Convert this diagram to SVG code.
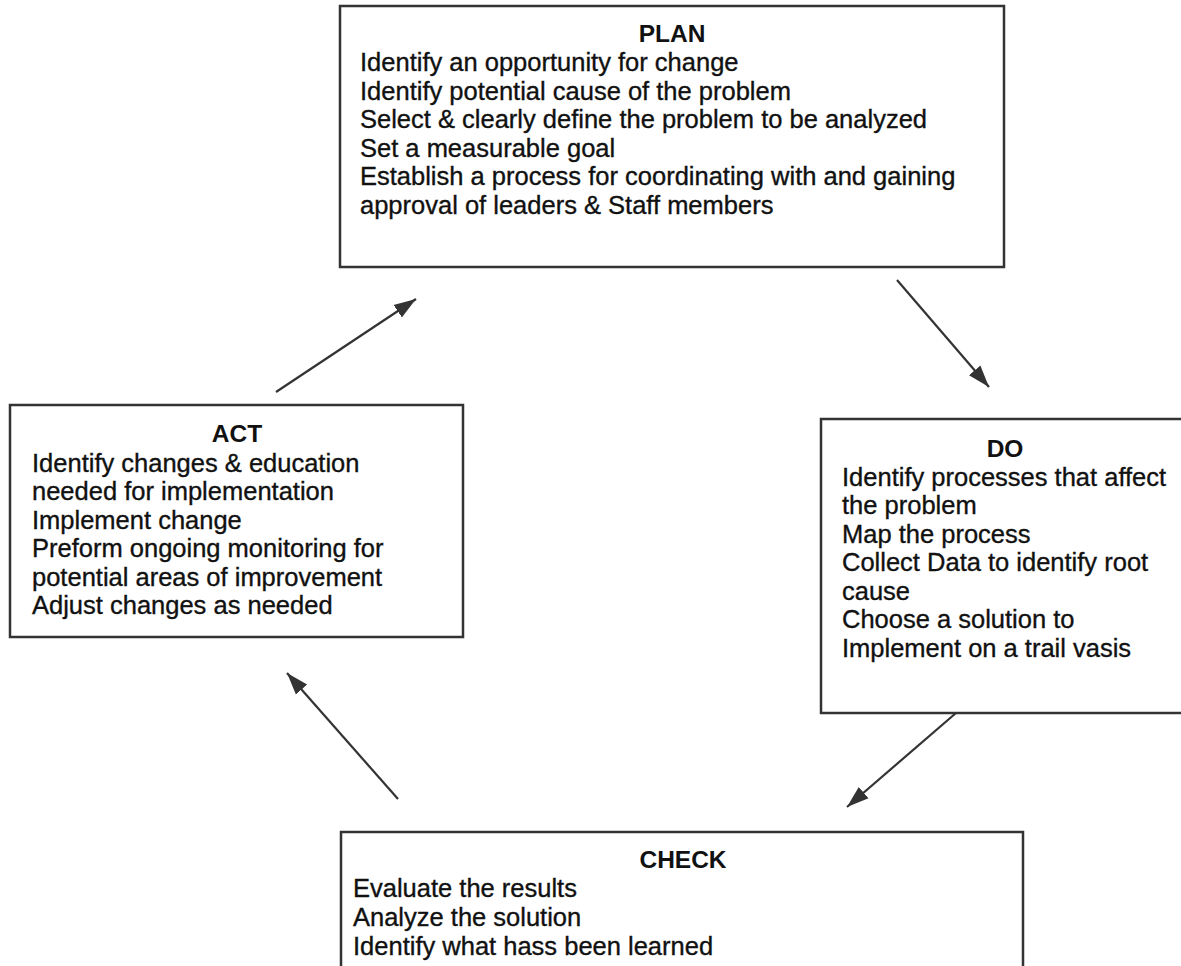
<svg xmlns="http://www.w3.org/2000/svg" width="1181" height="966" viewBox="0 0 1181 966">
<style>
.box{fill:#fff;stroke:#333;stroke-width:2.5}
.t{font-family:"Liberation Sans",Arial,sans-serif;font-size:25.5px;fill:#111;stroke:#111;stroke-width:0.35}
.h{font-family:"Liberation Sans",Arial,sans-serif;font-size:24.5px;font-weight:bold;fill:#111;text-anchor:middle}
.c{stroke:#333;stroke-width:2.2;fill:none;marker-end:url(#ah)}
</style>
<defs>
<marker id="ah" markerUnits="userSpaceOnUse" markerWidth="24" markerHeight="20" viewBox="0 0 24 20" refX="22" refY="10" orient="auto">
<path d="M0,2.5 L22,10 L0,17.5 Z" fill="#333"/>
</marker>
</defs>
<rect width="1181" height="966" fill="#fff"/>
<g id="connectors">
<line class="c" x1="897" y1="280" x2="989" y2="387"/>
<line class="c" x1="956" y1="713" x2="847" y2="807"/>
<line class="c" x1="398" y1="799" x2="287" y2="673"/>
<line class="c" x1="276" y1="392" x2="416" y2="299"/>
</g>
<g id="plan">
<rect class="box" x="340" y="6" width="664" height="261"/>
<text class="h" x="672" y="42">PLAN</text>
<text class="t" x="360" y="71">Identify an opportunity for change</text>
<text class="t" x="360" y="99.5">Identify potential cause of the problem</text>
<text class="t" x="360" y="128">Select &amp; clearly define the problem to be analyzed</text>
<text class="t" x="360" y="156.5">Set a measurable goal</text>
<text class="t" x="360" y="185">Establish a process for coordinating with and gaining</text>
<text class="t" x="360" y="213.5">approval of leaders &amp; Staff members</text>
</g>
<g id="do">
<rect class="box" x="821" y="419" width="380" height="294"/>
<text class="h" x="1005" y="457">DO</text>
<text class="t" x="842" y="485.5">Identify processes that affect</text>
<text class="t" x="842" y="514">the problem</text>
<text class="t" x="842" y="542.5">Map the process</text>
<text class="t" x="842" y="571">Collect Data to identify root</text>
<text class="t" x="842" y="599.5">cause</text>
<text class="t" x="842" y="628">Choose a solution to</text>
<text class="t" x="842" y="656.5">Implement on a trail vasis</text>
</g>
<g id="check">
<rect class="box" x="341" y="832" width="682" height="150"/>
<text class="h" x="683" y="868">CHECK</text>
<text class="t" x="353" y="897">Evaluate the results</text>
<text class="t" x="353" y="926">Analyze the solution</text>
<text class="t" x="353" y="954.5">Identify what hass been learned</text>
</g>
<g id="act">
<rect class="box" x="10" y="405" width="453" height="232"/>
<text class="h" x="237" y="442">ACT</text>
<text class="t" x="32" y="471.5">Identify changes &amp; education</text>
<text class="t" x="32" y="500">needed for implementation</text>
<text class="t" x="32" y="528.5">Implement change</text>
<text class="t" x="32" y="557">Preform ongoing monitoring for</text>
<text class="t" x="32" y="585.5">potential areas of improvement</text>
<text class="t" x="32" y="614">Adjust changes as needed</text>
</g>
</svg>
